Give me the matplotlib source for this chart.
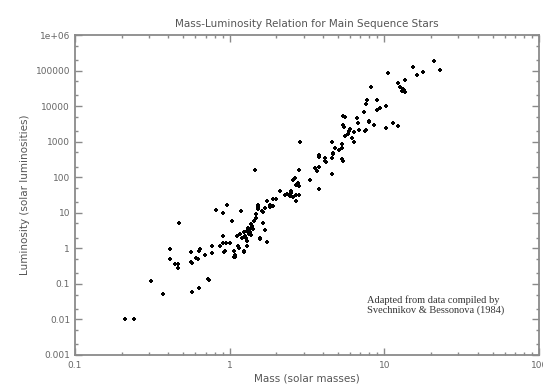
import numpy as np
import matplotlib
matplotlib.use("Agg")
import matplotlib.pyplot as plt
from matplotlib.ticker import LogLocator, FixedLocator, NullFormatter

# Main sequence stars: mass (solar masses) and luminosity (solar luminosities)
mass_low = [0.21, 0.24, 0.31, 0.37, 0.41, 0.41, 0.44, 0.465, 0.465, 0.47,
            0.56, 0.575, 0.56, 0.62, 0.63, 0.64, 0.69, 0.77, 0.77, 0.92,
            1.07, 1.09, 1.23, 0.57, 0.63, 0.72, 0.73, 0.61]
lum_low = [0.01, 0.01, 0.117, 0.052, 0.5, 0.93, 0.36, 0.36, 0.28, 5.1,
           0.40, 0.38, 0.77, 0.5, 0.82, 0.95, 0.66, 0.72, 1.16, 0.8,
           0.56, 0.63, 0.8, 0.059, 0.079, 0.139, 0.13, 0.53]

mass_mid = [0.81, 0.96, 0.91, 1.18, 1.04, 0.86, 0.90, 0.91, 0.94, 1.0,
            0.93, 1.07, 1.08, 1.14, 1.23, 1.30, 1.11, 1.17, 1.23, 1.29,
            1.32, 1.35, 1.38, 1.44, 1.47, 1.52, 1.57, 1.29, 1.46, 1.25,
            1.33, 1.36, 1.40, 1.42, 1.31, 1.27, 1.38, 1.49, 1.53, 1.61,
            1.65, 1.57, 1.69, 1.73, 1.83, 1.91, 2.0, 1.91, 1.65, 1.53,
            1.69, 1.73, 1.20, 1.15]
lum_mid = [12.2, 16.5, 9.7, 11.5, 5.8, 1.18, 1.43, 2.2, 1.37, 1.43,
           0.83, 0.82, 0.57, 1.2, 0.86, 1.18, 2.2, 2.5, 2.8, 3.1,
           3.8, 2.8, 4.8, 5.9, 7.3, 12.5, 1.8, 1.6, 157, 2.2,
           2.5, 3.4, 4.2, 3.6, 3.3, 2.0, 2.4, 9.1, 15, 11,
           5.3, 2.0, 14, 21, 17, 24, 25, 15.5, 10.6, 16.5,
           3.3, 1.5, 1.9, 1.0]

mass_upmid = [2.11, 2.33, 2.45, 2.58, 2.68, 2.8, 2.29, 2.58, 2.77, 2.8,
              2.68, 2.85, 2.81, 3.78, 3.78, 3.3, 3.56, 3.66, 3.8, 4.13,
              4.56, 4.56, 4.68, 4.79, 4.6, 5.1, 5.3, 5.4, 5.48, 5.6,
              5.85, 6.2, 6.35, 6.0, 6.6, 6.7, 6.8, 6.35, 7.9, 7.5,
              2.5, 2.7, 2.0, 1.83, 2.65, 3.8, 4.68, 5.3, 5.3, 4.15,
              4.2, 2.5]
lum_upmid = [41, 34, 29, 28, 21, 31, 31, 86, 69, 56,
             62, 1000, 160, 380, 46, 84, 182, 147, 198, 280,
             126, 347, 478, 660, 1000, 590, 870, 293, 2540, 1400,
             1660, 1260, 1900, 2300, 4560, 3310, 2140, 1000, 3630, 2000,
             35, 32, 24, 15, 93, 420, 460, 317, 650, 340,
             270, 42]

mass_high = [21, 22.9, 15.4, 16.2, 17.7, 10.6, 8.2, 12.3, 12.6, 13.5,
             13.3, 13.6, 12.9, 13.1, 7.7, 7.6, 7.4, 8.9, 9.4, 10.3,
             8.9, 5.37, 5.6, 6.6, 5.43, 5.9, 7.6, 8.5, 10.3, 11.3,
             12.3, 7.9]
lum_high = [185000, 103000, 128000, 75000, 93000, 83000, 34000, 44000, 34000, 54000,
            28300, 25000, 27000, 31000, 14800, 11500, 6950, 14800, 8700, 10000,
            7760, 5250, 5000, 4550, 2940, 2040, 2200, 2940, 2370, 3400,
            2750, 3870]

mass = mass_low + mass_mid + mass_upmid + mass_high
lum = lum_low + lum_mid + lum_upmid + lum_high

y_ticks = [1e-3, 1e-2, 1e-1, 1, 10, 100, 1000, 1e4, 1e5, 1e6]
y_labels = ["0.001", "0.01", "0.1", "1", "10", "100", "1000", "10000", "100000", "1e+06"]
x_ticks = [0.1, 1, 10, 100]
x_labels = ["0.1", "1", "10", "100"]

fig = plt.figure(figsize=(5.43, 3.85), dpi=100)
ax = fig.add_axes([0.138, 0.078, 0.855, 0.831])

ax.scatter(mass, lum, marker="P", s=12, color="black", linewidths=0)

ax.set_xscale("log")
ax.set_yscale("log")
ax.set_xlim(0.1, 100)
ax.set_ylim(1e-3, 1e6)

ax.set_xticks(x_ticks)
ax.set_xticklabels(x_labels)
ax.set_yticks(y_ticks)
ax.set_yticklabels(y_labels)
ax.xaxis.set_minor_locator(LogLocator(base=10, subs=np.arange(2, 10)))
ax.yaxis.set_minor_locator(FixedLocator([2e-3, 5e-3, 2e-2, 5e-2, 2e-1, 5e-1, 2, 5, 20, 50,
                                         200, 500, 2e3, 5e3, 2e4, 5e4, 2e5, 5e5]))
ax.xaxis.set_minor_formatter(NullFormatter())
ax.yaxis.set_minor_formatter(NullFormatter())

grey = "#8a8a8a"
for s in ax.spines.values():
    s.set_color(grey)
    s.set_linewidth(1.3)
ax.tick_params(which="both", direction="in", top=True, right=True, color=grey,
               labelcolor="#666666", labelsize=6.5)
ax.tick_params(which="major", length=5, width=1)
ax.tick_params(which="minor", length=2.5, width=1)
ax.tick_params(axis="x", pad=4)

ax.set_title("Mass-Luminosity Relation for Main Sequence Stars", fontsize=7.5,
             color="#555555", pad=6)
ax.set_xlabel("Mass (solar masses)", fontsize=7.5, color="#555555", labelpad=3)
ax.set_ylabel("Luminosity (solar luminosities)", fontsize=7.5, color="#555555", labelpad=4)

ax.text(0.63, 0.185, "Adapted from data compiled by\nSvechnikov & Bessonova (1984)",
        transform=ax.transAxes, fontsize=7.5, family="Liberation Serif",
        color="#333333", va="top", ha="left", linespacing=1.05)

fig.savefig("out.png", dpi=100)
